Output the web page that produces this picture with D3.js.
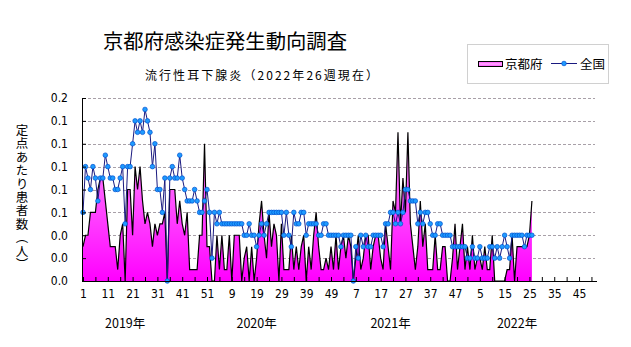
<!DOCTYPE html>
<html><head><meta charset="utf-8">
<script src="https://cdn.jsdelivr.net/npm/d3@7"></script>
<style>
html,body{margin:0;padding:0;background:#fff;}
svg{display:block;}
</style></head><body>
<svg id="chart" width="631" height="347"></svg>
<script>
// ---------- data ----------
const years = ["2019年", "2020年", "2021年", "2022年"];
const weeksPerYear = [52, 52, 52, 52];
const xTickLabels = ["1","11","21","31","41","51","9","19","29","39","49","7","17","27","37","47","5","15","25","35","45"];
const yTickValues = [0, 0.02, 0.04, 0.06, 0.08, 0.10, 0.12, 0.14, 0.16];
const yearLabelWeek = [17, 18, 20, 19];

const kyoto2019 = [0.03,0.04,0.04,0.06,0.06,0.06,0.08,0.09,0.09,0.07,0.05,0.03,0.03,0.03,0.01,0.04,0.05,0.00,0.08,0.08,0.04,0.10,0.08,0.10,0.07,0.05,0.06,0.05,0.03,0.05,0.04,0.05,0.05,0.06,0.00,0.08,0.08,0.08,0.05,0.07,0.05,0.04,0.06,0.01,0.01,0.01,0.01,0.04,0.04,0.12,0.03,0.03];
const kyoto2020 = [0.00,0.00,0.04,0.01,0.04,0.01,0.01,0.04,0.00,0.04,0.04,0.04,0.00,0.02,0.03,0.00,0.03,0.00,0.02,0.05,0.07,0.04,0.02,0.06,0.03,0.05,0.04,0.00,0.05,0.01,0.01,0.01,0.04,0.01,0.03,0.01,0.03,0.04,0.00,0.03,0.01,0.04,0.06,0.03,0.01,0.01,0.02,0.01,0.03,0.01,0.04,0.01];
const kyoto2021 = [0.03,0.04,0.02,0.04,0.03,0.00,0.02,0.04,0.01,0.02,0.04,0.04,0.01,0.03,0.04,0.04,0.02,0.01,0.05,0.03,0.01,0.07,0.06,0.13,0.05,0.09,0.06,0.13,0.05,0.03,0.01,0.03,0.07,0.03,0.05,0.01,0.01,0.01,0.04,0.01,0.01,0.03,0.03,0.00,0.00,0.02,0.05,0.01,0.03,0.05,0.01,0.03];
const kyoto2022 = [0.01,0.04,0.01,0.02,0.02,0.01,0.03,0.01,0.01,0.04,0.00,0.00,0.00,0.00,0.00,0.01,0.01,0.04,0.00,0.03,0.03,0.03,0.03,0.03,0.04,0.07];

const national2019 = [0.06,0.10,0.09,0.08,0.10,0.09,0.07,0.09,0.09,0.11,0.10,0.09,0.09,0.08,0.08,0.09,0.10,0.05,0.10,0.10,0.12,0.14,0.13,0.14,0.13,0.15,0.14,0.13,0.10,0.12,0.08,0.08,0.06,0.09,0.00,0.09,0.10,0.09,0.09,0.11,0.09,0.08,0.07,0.07,0.07,0.08,0.07,0.06,0.06,0.07,0.08,0.06];
const national2020 = [0.02,0.06,0.05,0.06,0.05,0.05,0.05,0.05,0.05,0.05,0.05,0.05,0.05,0.04,0.04,0.05,0.04,0.04,0.03,0.04,0.05,0.04,0.05,0.06,0.06,0.06,0.06,0.06,0.06,0.04,0.06,0.04,0.03,0.06,0.05,0.05,0.06,0.06,0.04,0.05,0.05,0.05,0.05,0.04,0.04,0.05,0.05,0.04,0.04,0.04,0.04,0.04];
const national2021 = [0.03,0.04,0.04,0.04,0.04,0.00,0.03,0.02,0.04,0.03,0.04,0.03,0.03,0.04,0.04,0.04,0.04,0.03,0.05,0.05,0.06,0.06,0.05,0.06,0.05,0.06,0.08,0.08,0.07,0.07,0.07,0.05,0.06,0.05,0.06,0.06,0.05,0.04,0.04,0.05,0.05,0.04,0.04,0.04,0.04,0.03,0.03,0.03,0.03,0.03,0.03,0.02];
const national2022 = [0.02,0.03,0.02,0.02,0.03,0.02,0.02,0.02,0.03,0.03,0.02,0.03,0.02,0.03,0.04,0.03,0.02,0.04,0.04,0.04,0.04,0.04,0.03,0.04,0.04,0.04];

const titleText = "京都府感染症発生動向調査";
const subtitleText = "流行性耳下腺炎（2022年26週現在）";
const yTitleText = "定点あたり患者数（人）";
const legendNames = ["京都府", "全国"];

// ---------- build ----------
const categories = [];
years.forEach((yr, k) => { for (let w = 1; w <= weeksPerYear[k]; w++) categories.push(yr + w); });
const kyoto = [].concat(kyoto2019, kyoto2020, kyoto2021, kyoto2022);
const national = [].concat(national2019, national2020, national2021, national2022);

const svg = d3.select("#chart");
const jp = "'Noto Sans CJK JP', 'Noto Sans', sans-serif";
const narrow = "'Liberation Sans Narrow', 'DejaVu Sans Condensed', 'Arial Narrow', sans-serif";

const x = d3.scalePoint().domain(categories).range([83, 596.4]);
const y = d3.scaleLinear().domain([0, 0.16]).range([281, 98]);

// gradient
const defs = svg.append("defs");
const grad = defs.append("linearGradient").attr("id", "pink")
  .attr("gradientUnits", "userSpaceOnUse").attr("x1", 0).attr("y1", 98).attr("x2", 0).attr("y2", 281);
grad.append("stop").attr("offset", "0%").attr("stop-color", "#ffb8ff");
grad.append("stop").attr("offset", "100%").attr("stop-color", "#ff00ff");
const grad2 = defs.append("linearGradient").attr("id", "pinkLeg").attr("x1", 0).attr("y1", 0).attr("x2", 0).attr("y2", 1);
grad2.append("stop").attr("offset", "0%").attr("stop-color", "#ff40ff");
grad2.append("stop").attr("offset", "50%").attr("stop-color", "#ffb0ff");
grad2.append("stop").attr("offset", "100%").attr("stop-color", "#ff40ff");

// title
svg.append("text").attr("x", 103).attr("y", 49).attr("font-family", jp).attr("font-size", 20)
  .attr("textLength", 244).attr("lengthAdjust", "spacingAndGlyphs").text(titleText);
svg.append("text").attr("x", 145).attr("y", 80).attr("font-family", jp).attr("font-size", 12)
  .attr("textLength", 233).attr("lengthAdjust", "spacing").text(subtitleText);

// gridlines
svg.append("g").selectAll("line").data(yTickValues.filter(d => d > 0)).join("line")
  .attr("x1", 83).attr("x2", 595).attr("y1", d => Math.round(y(d)) + 0.5).attr("y2", d => Math.round(y(d)) + 0.5)
  .attr("stroke", "#a8a0a8").attr("stroke-width", 1).attr("stroke-dasharray", "3,2");

// Kyoto area
const area = d3.area().x((d, i) => x(categories[i])).y0(y(0)).y1(d => y(d));
const line = d3.line().x((d, i) => x(categories[i])).y(d => y(d));
svg.append("path").datum(kyoto).attr("d", area).attr("fill", "url(#pink)");
svg.append("path").datum(kyoto).attr("d", line).attr("fill", "none").attr("stroke", "#000").attr("stroke-width", 1.2);

// National line
svg.append("path").datum(national).attr("d", line).attr("fill", "none").attr("stroke", "#1a1a80").attr("stroke-width", 1);
svg.append("g").selectAll("circle").data(national).join("circle")
  .attr("cx", (d, i) => x(categories[i])).attr("cy", d => y(d)).attr("r", 2.3)
  .attr("fill", "#1e9bff").attr("stroke", "#0050d0").attr("stroke-width", 0.7);

// axes
const gy = svg.append("g").attr("transform", "translate(82,0)")
  .call(d3.axisLeft(y).tickValues(yTickValues).tickFormat(d3.format(".1f")).tickSizeInner(-4).tickSizeOuter(0).tickPadding(14));
gy.attr("font-family", narrow).attr("font-size", 12);
gy.selectAll("text").attr("fill", "#000");
gy.selectAll("line,path").attr("stroke", "#000");

const tickCats = categories.filter((c, i) => i % 5 === 0);
const gx = svg.append("g").attr("transform", "translate(0,281)")
  .call(d3.axisBottom(x).tickValues(tickCats)
    .tickFormat(c => { const i = categories.indexOf(c); return i % 10 === 0 ? xTickLabels[i / 10] : ""; })
    .tickSizeInner(-4).tickSizeOuter(0).tickPadding(8));
gx.select(".domain").remove();
gx.attr("font-family", narrow).attr("font-size", 12);
gx.selectAll("text").attr("fill", "#000");
gx.selectAll("line").attr("stroke", "#000");
svg.append("line").attr("x1", 82).attr("x2", 597).attr("y1", 281.5).attr("y2", 281.5).attr("stroke", "#000");

// year labels
svg.append("g").selectAll("text").data(years).join("text")
  .attr("x", (d, k) => x(categories[weeksPerYear.slice(0, k).reduce((a, b) => a + b, 0) + yearLabelWeek[k]]))
  .attr("y", 328).attr("text-anchor", "middle").attr("font-family", jp).attr("font-size", 12.5)
  .text(d => d);

// y title (vertical)
svg.append("text").attr("x", 22).attr("y", 124)
  .style("writing-mode", "vertical-rl").style("letter-spacing", "0.9px")
  .attr("font-family", jp).attr("font-size", 12.5).text(yTitleText);

// legend
const lg = svg.append("g");
lg.append("rect").attr("x", 467.5).attr("y", 44.5).attr("width", 141).attr("height", 39)
  .attr("fill", "#fff").attr("stroke", "#a0a0a0").attr("stroke-dasharray", "1,1");
lg.append("rect").attr("x", 478.5).attr("y", 61.5).attr("width", 24).attr("height", 5)
  .attr("fill", "url(#pinkLeg)").attr("stroke", "#000");
lg.append("text").attr("x", 505).attr("y", 69).attr("font-family", jp).attr("font-size", 12.5).text(legendNames[0]);
lg.append("line").attr("x1", 551).attr("x2", 577).attr("y1", 63.5).attr("y2", 63.5).attr("stroke", "#1a1a80");
lg.append("circle").attr("cx", 564).attr("cy", 63.5).attr("r", 2.3).attr("fill", "#1e9bff").attr("stroke", "#0050d0").attr("stroke-width", 0.7);
lg.append("text").attr("x", 580).attr("y", 69).attr("font-family", jp).attr("font-size", 12.5).text(legendNames[1]);
</script>
</body></html>
